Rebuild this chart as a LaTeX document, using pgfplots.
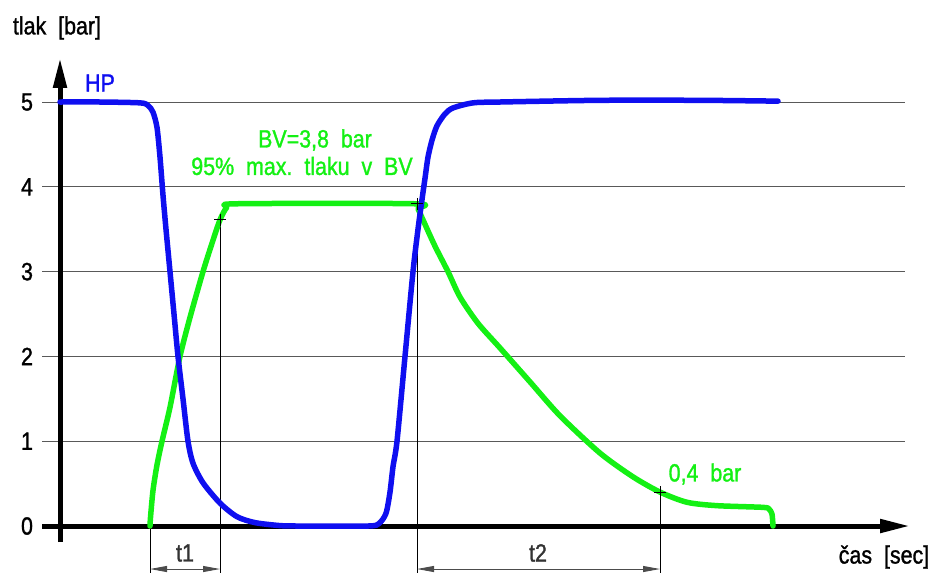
\documentclass[border=0pt]{standalone}
\usepackage{pgfplots}
\pgfplotsset{compat=1.18}
\usepackage{fontspec}
\setmainfont{Liberation Sans}[FakeStretch=0.86, FakeBold=1.2]
\usetikzlibrary{arrows.meta}
\definecolor{hpblue}{RGB}{15,15,240}
\definecolor{bvgreen}{RGB}{20,240,20}
\newcommand{\cadfont}{\fontsize{25}{29}\selectfont}
\begin{document}
\begin{tikzpicture}
\begin{axis}[hide axis, scale only axis, width=938bp, height=573bp,
  xmin=0, xmax=938, ymin=-0.554, ymax=6.203, clip=false]
\path[draw=none] (axis cs:0,-0.554) rectangle (axis cs:938,6.203);
% grid lines
\foreach \yy in {1,2,3,4,5}{
  \edef\tmp{\noexpand\draw[black!65, line width=1bp] (axis cs:42,\yy) -- (axis cs:905,\yy);}
  \tmp
}
% axes
\draw[line width=5bp, -{Triangle[length=30bp,width=13bp]}] (axis cs:42,0) -- (axis cs:910,0);
\draw[line width=5bp, -{Triangle[length=30bp,width=13bp]}] (axis cs:60,-0.19) -- (axis cs:60,5.52);
% tick labels
\foreach \yy in {0,1,2,3,4,5}{
  \edef\tmp{\noexpand\node[font=\noexpand\cadfont] at (axis cs:27,\yy) {\yy};}
  \tmp
}
% dimension lines
\draw[line width=0.9bp] (axis cs:150,0) -- (axis cs:150,-0.554);
\draw[line width=0.9bp] (axis cs:220,3.61) -- (axis cs:220,-0.554);
\draw[line width=0.9bp] (axis cs:417,3.8) -- (axis cs:417,-0.554);
\draw[line width=0.9bp] (axis cs:660,0.4) -- (axis cs:660,-0.554);
\draw[black!70, line width=0.9bp, {Triangle[length=17bp,width=6bp]}-{Triangle[length=17bp,width=6bp]}] (axis cs:150,-0.507) -- (axis cs:220,-0.507);
\draw[black!70, line width=0.9bp, {Triangle[length=17bp,width=6bp]}-{Triangle[length=17bp,width=6bp]}] (axis cs:417,-0.507) -- (axis cs:660,-0.507);
\node[font=\cadfont, text=black!80] at (axis cs:185,-0.318) {t1};
\node[font=\cadfont, text=black!80] at (axis cs:538,-0.318) {t2};
% curves
\addplot[bvgreen, line width=5.5bp, line cap=round, line join=round, smooth, tension=0.45] coordinates {
(150,0) (150.5,0.1) (153,0.42) (157,0.72) (162,1.0) (170,1.4) (180,2.0) (190,2.46) (203,3.0) (213,3.37) (220,3.61) (227,3.76) (237,3.8) (415,3.8) (418,3.74) (423,3.61) (435,3.3) (448,3.0) (460,2.7) (478,2.39) (500,2.1) (530,1.7) (560,1.3) (600,0.86) (633,0.58) (660,0.40) (687,0.28) (717,0.24) (763,0.22) (769,0.2) (772,0.14) (773,0)
};
\addplot[hpblue, line width=5.5bp, line cap=round, line join=round, smooth, tension=0.45] coordinates {
(60,5.0) (100,5.0) (140,4.99) (148,4.96) (153,4.88) (157,4.7) (160,4.35) (163,3.9) (166,3.5) (170,3.0) (174,2.5) (178,2.0) (183,1.5) (188,1.0) (193,0.74) (203,0.51) (220,0.27) (237,0.11) (255,0.04) (280,0.005) (300,0) (368,0) (379,0.03) (386,0.15) (390,0.4) (393,0.7) (397,1.0) (405,2.0) (413,3.0) (418,3.5) (422,3.85) (425,4.1) (428,4.35) (432,4.55) (437,4.72) (445,4.86) (453,4.93) (473,4.99) (500,5.0) (600,5.02) (700,5.02) (778,5.01)
};
\addplot[only marks, mark=+, mark size=6bp, mark options={line width=0.9bp, black}] coordinates {(220,3.61) (417,3.8) (660,0.4)};
% labels
\node[font=\cadfont] at (axis cs:57,5.873) {tlak\ \ [bar]};
\node[font=\cadfont, text=hpblue] at (axis cs:100,5.224) {HP};
\node[font=\cadfont, text=bvgreen] at (axis cs:315,4.552) {BV=3,8\ \ bar};
\node[font=\cadfont, text=bvgreen] at (axis cs:302,4.245) {95\%\ \ max.\ \ tlaku\ \ v\ \ BV};
\node[font=\cadfont, text=bvgreen] at (axis cs:705,0.613) {0,4\ \ bar};
\node[font=\cadfont] at (axis cs:884,-0.366) {čas\ \ [sec]};
\end{axis}
\end{tikzpicture}
\end{document}
